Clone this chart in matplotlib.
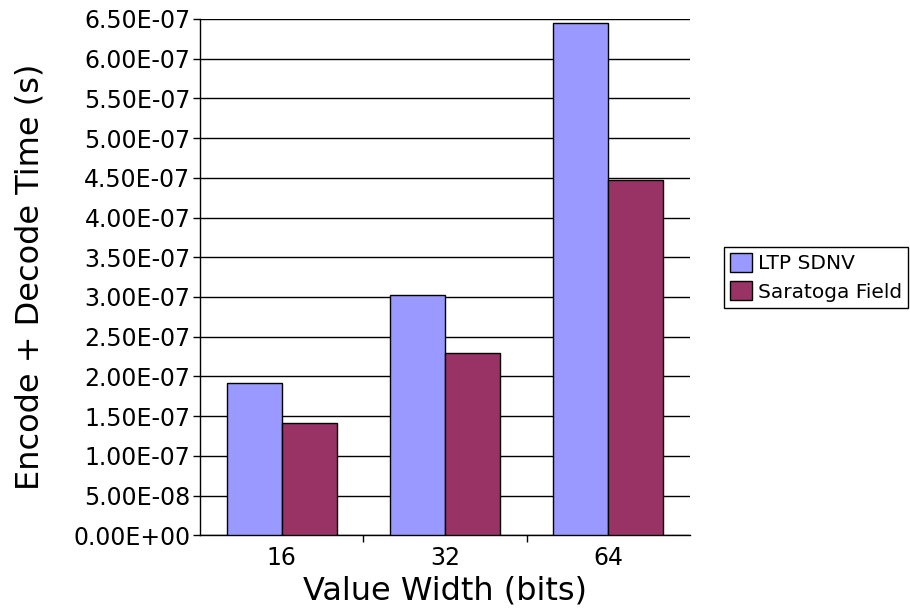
import numpy as np
from matplotlib import pyplot as plt
from matplotlib.ticker import FuncFormatter, MultipleLocator

widths = ['16', '32', '64']
ltp_sdnv = [1.915e-7, 3.02e-7, 6.45e-7]
saratoga = [1.41e-7, 2.30e-7, 4.47e-7]


def sci_fmt(value, pos):
    text = f'{value:.2E}'
    mant, exp = text.split('E')
    sign = exp[0]
    return f'{mant}E{sign}{int(exp[1:]):02d}'


fig = plt.figure(figsize=(9.1, 6.09), dpi=100)
ax = fig.add_axes([0.22, 0.121, 0.538, 0.848])

x = np.arange(len(widths))
bar_w = 0.337
ax.bar(x - bar_w / 2, ltp_sdnv, bar_w, color='#9999FF', edgecolor='black',
       linewidth=1, label='LTP SDNV', zorder=3)
ax.bar(x + bar_w / 2, saratoga, bar_w, color='#993366', edgecolor='black',
       linewidth=1, label='Saratoga Field', zorder=3)

ax.set_xlim(-0.5, 2.5)
ax.set_ylim(0, 6.5e-7)
ax.yaxis.set_major_locator(MultipleLocator(5e-8))
ax.yaxis.set_major_formatter(FuncFormatter(sci_fmt))
ax.yaxis.grid(True, color='black', linewidth=1, zorder=0)

ax.set_xticks(x)
ax.set_xticklabels(widths)
ax.set_xticks([0.5, 1.5], minor=True)
ax.tick_params(axis='x', which='major', length=0, labelsize=17, pad=8)
ax.tick_params(axis='x', which='minor', length=5, width=1)
ax.tick_params(axis='y', length=5, width=1, labelsize=17, pad=2)

for side in ['top', 'right']:
    ax.spines[side].set_visible(False)
ax.spines['left'].set_linewidth(1)
ax.spines['bottom'].set_linewidth(1)

ax.set_xlabel('Value Width (bits)', fontsize=23, labelpad=4)
ax.set_ylabel('Encode + Decode Time (s)', fontsize=23, labelpad=20)

ax.legend(loc='center left', bbox_to_anchor=(1.07, 0.5), fontsize=14.5,
          frameon=True, fancybox=False, edgecolor='black', framealpha=1,
          handlelength=1.1, handleheight=1.1, borderpad=0.3,
          labelspacing=0.4, handletextpad=0.3, borderaxespad=0)

fig.savefig('out.png', dpi=100)
